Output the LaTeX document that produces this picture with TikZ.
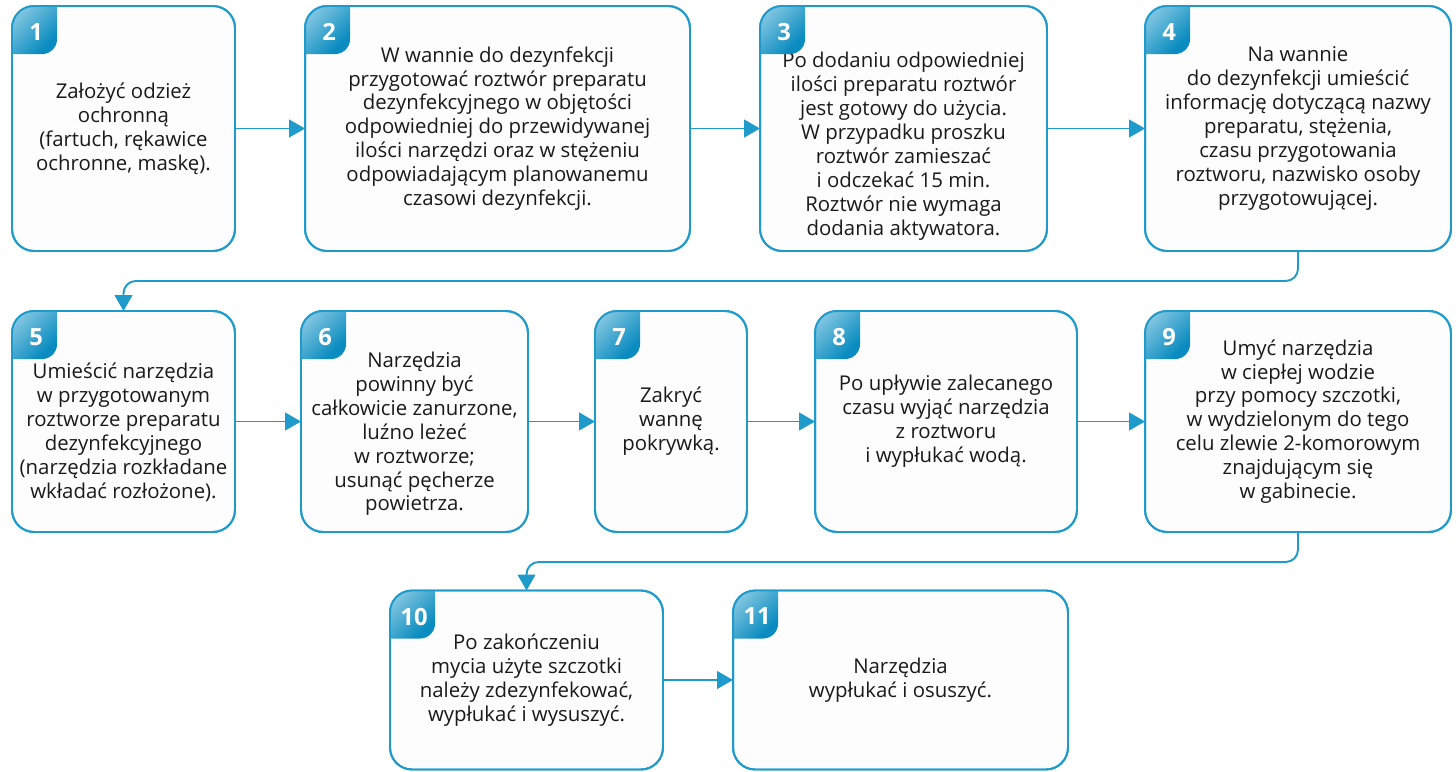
\documentclass[tikz,border=0pt]{standalone}
\usepackage{fontspec}
\setmainfont{Open Sans}
\usetikzlibrary{calc,arrows.meta}
\definecolor{flowblue}{HTML}{1E9BCB}
\definecolor{badgedark}{HTML}{0A8CC0}
\definecolor{badgelight}{HTML}{C4E6F3}
\definecolor{boxfill}{HTML}{FDFDFD}
\definecolor{txt}{HTML}{1A1A1A}
\newcommand\pushdown[1]{\rule{0pt}{#1}}
\begin{document}
\begin{tikzpicture}[x=0.02cm, y=-0.02cm,
  stepbox/.style={draw=flowblue, line width=1.1pt, fill=boxfill, rounded corners=12.5pt,
    outer sep=0pt, inner sep=0pt, align=center, text=txt,
    font=\fontsize{11.6}{13.6}\selectfont},
  row1/.style={minimum height=4.9cm},
  row2/.style={minimum height=4.42cm},
  row3/.style={minimum height=3.58cm},
  badge/.style={top color=badgelight, bottom color=badgedark, shading angle=45},
  num/.style={text=white, font=\fontsize{13.5}{13.5}\selectfont\bfseries},
  link/.style={draw=flowblue, line width=1.1pt, -{Triangle[length=9pt,width=10pt]}}]
\useasboundingbox (0,0) rectangle (1456,771);

\node[stepbox, row1, minimum width=4.46cm] (s1) at (123.5,128.5)
  {Założyć odzież\\ ochronną\\ (fartuch, rękawice\\ ochronne, maskę).};
\node[stepbox, row1, minimum width=7.7cm] (s2) at (497.5,128.5)
  {W wannie do dezynfekcji\\ przygotować roztwór preparatu\\ dezynfekcyjnego w objętości\\ odpowiedniej do przewidywanej\\ ilości narzędzi oraz w stężeniu\\ odpowiadającym planowanemu\\ czasowi dezynfekcji.};
\node[stepbox, row1, minimum width=5.74cm] (s3) at (903.5,128.5)
  {\pushdown{29pt}Po dodaniu odpowiedniej\\ ilości preparatu roztwór\\ jest gotowy do użycia.\\ W przypadku proszku\\ roztwór zamieszać\\ i odczekać 15 min.\\ Roztwór nie wymaga\\ dodania aktywatora.};
\node[stepbox, row1, minimum width=6.12cm] (s4) at (1298,128.5)
  {Na wannie\\ do dezynfekcji umieścić\\ informację dotyczącą nazwy\\ preparatu, stężenia,\\ czasu przygotowania\\ roztworu, nazwisko osoby\\ przygotowującej.};

\node[stepbox, row2, minimum width=4.46cm] (s5) at (123.5,421.5)
  {\pushdown{21pt}Umieścić narzędzia\\ w przygotowanym\\ roztworze preparatu\\ dezynfekcyjnego\\ (narzędzia rozkładane\\ wkładać rozłożone).};
\node[stepbox, row2, minimum width=4.54cm] (s6) at (414.5,421.5)
  {\pushdown{23pt}Narzędzia\\ powinny być\\ całkowicie zanurzone,\\ luźno leżeć\\ w roztworze;\\ usunąć pęcherze\\ powietrza.};
\node[stepbox, row2, minimum width=3.04cm] (s7) at (671,421.5)
  {Zakryć\\ wannę\\ pokrywką.};
\node[stepbox, row2, minimum width=5.24cm] (s8) at (946,421.5)
  {Po upływie zalecanego\\ czasu wyjąć narzędzia\\ z roztworu\\ i wypłukać wodą.};
\node[stepbox, row2, minimum width=6.12cm] (s9) at (1298,421.5)
  {Umyć narzędzia\\ w ciepłej wodzie\\ przy pomocy szczotki,\\ w wydzielonym do tego\\ celu zlewie 2-komorowym\\ znajdującym się\\ w gabinecie.};

\node[stepbox, row3, minimum width=5.46cm] (s10) at (526.5,680)
  {Po zakończeniu\\ mycia użyte szczotki\\ należy zdezynfekować,\\ wypłukać i wysuszyć.};
\node[stepbox, row3, minimum width=6.7cm] (s11) at (900.5,680)
  {Narzędzia\\ wypłukać i osuszyć.};

\foreach \n in {1,...,11}{
  \begin{scope}
    \clip[rounded corners=12.5pt] (s\n.south west) rectangle (s\n.north east);
    \shade[badge, rounded corners=8.5pt] ($(s\n.north west)+(-20,-20)$) rectangle ($(s\n.north west)+(45,48)$);
  \end{scope}
  \draw[draw=flowblue, line width=1.1pt, rounded corners=12.5pt] (s\n.south west) rectangle (s\n.north east);
  \node[num] at ($(s\n.north west)+(24,26)$) {\n};
}

\draw[link] (s1) -- (s2);
\draw[link] (s2) -- (s3);
\draw[link] (s3) -- (s4);
\draw[link, rounded corners=7pt] (s4.south) -- ++(0,30) -| (s5.north);
\draw[link] (s5) -- (s6);
\draw[link] (s6) -- (s7);
\draw[link] (s7) -- (s8);
\draw[link] (s8) -- (s9);
\draw[link, rounded corners=7pt] (s9.south) -- ++(0,30) -| (s10.north);
\draw[link] (s10) -- (s11);
\end{tikzpicture}
\end{document}
